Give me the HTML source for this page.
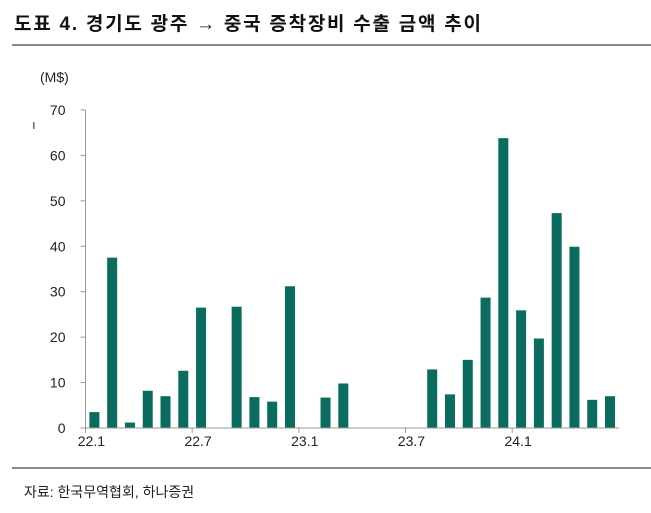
<!DOCTYPE html>
<html><head><meta charset="utf-8">
<style>
body{margin:0;background:#fff;width:651px;height:508px;overflow:hidden;font-family:"Liberation Sans","Noto Sans CJK KR",sans-serif}
</style></head><body>
<svg width="651" height="508" xmlns="http://www.w3.org/2000/svg">
<text x="14" y="30" font-size="19" font-weight="bold" fill="#111" textLength="467" lengthAdjust="spacing" font-family="Liberation Sans, Noto Sans CJK KR, sans-serif">도표 4. 경기도 광주 → 중국 증착장비 수출 금액 추이</text>
<rect x="12" y="44" width="639" height="2" fill="#8a8a8a"/>
<text x="40" y="82" font-size="14" fill="#222">(M$)</text>
<rect x="33" y="122" width="1.5" height="7" fill="#4a6fb0"/>
<g id="yaxis"></g><g id="bars"></g><g id="xaxis"></g>
<rect x="12" y="467" width="639" height="2" fill="#8a8a8a"/>
<text x="24" y="497" font-size="14" fill="#222">자료: 한국무역협회, 하나증권</text>
</svg>
<script>
const categories = ["22.1","22.2","22.3","22.4","22.5","22.6","22.7","22.8","22.9","22.10","22.11","22.12","23.1","23.2","23.3","23.4","23.5","23.6","23.7","23.8","23.9","23.10","23.11","23.12","24.1","24.2","24.3","24.4","24.5","24.6"];
const values = [3.5,37.5,1.2,8.2,7,12.6,26.5,0,26.7,6.8,5.8,31.2,0,6.7,9.8,0,0,0,0,12.9,7.4,15,28.7,63.8,25.9,19.7,47.3,39.9,6.2,7];
const yTicks = [0,10,20,30,40,50,60,70];
const xLabels = ["22.1","22.7","23.1","23.7","24.1"];
const NS="http://www.w3.org/2000/svg";
const x0=85.5, step=17.78, yBase=428, yTop=110, yMax=70;
const xPos=i=>x0+step*i;
const yPos=v=>yBase-(v/yMax)*(yBase-yTop);
function mk(t,a,p){const e=document.createElementNS(NS,t);for(const k in a)e.setAttribute(k,a[k]);p.appendChild(e);return e;}
const ya=document.getElementById('yaxis');
let l=mk('line',{x1:x0,y1:yTop,x2:x0,y2:yBase,stroke:'#999','stroke-width':1},ya);


yTicks.forEach(v=>{
 const t=mk('line',{x1:x0-5,x2:x0,y1:yPos(v),y2:yPos(v),stroke:'#999'},ya);
 
 
 const tx=mk('text',{x:x0-20,y:yPos(v)+5,'font-size':14,fill:'#222','text-anchor':'end'},ya);
 tx.textContent=v;
 
 
});
const ba=document.getElementById('bars');
values.forEach((v,i)=>{
 if(v<=0)return;
 const b=mk('rect',{x:xPos(i)+step/2-5,y:yPos(v),width:10,height:yBase-yPos(v),fill:'#0a6b5f'},ba);
 
 
});
const xa=document.getElementById('xaxis');
l=mk('line',{x1:x0,y1:yBase,x2:xPos(categories.length),y2:yBase,stroke:'#999'},xa);


xLabels.forEach(lab=>{
 const i=categories.indexOf(lab);
 const t=mk('line',{x1:xPos(i),x2:xPos(i),y1:yBase,y2:yBase+5,stroke:'#999'},xa);
 
 
 const tx=mk('text',{x:xPos(i)+step/2-3,y:yBase+18,'font-size':14,fill:'#222','text-anchor':'middle'},xa);
 tx.textContent=lab;
 
 
});
</script>
</body></html>
